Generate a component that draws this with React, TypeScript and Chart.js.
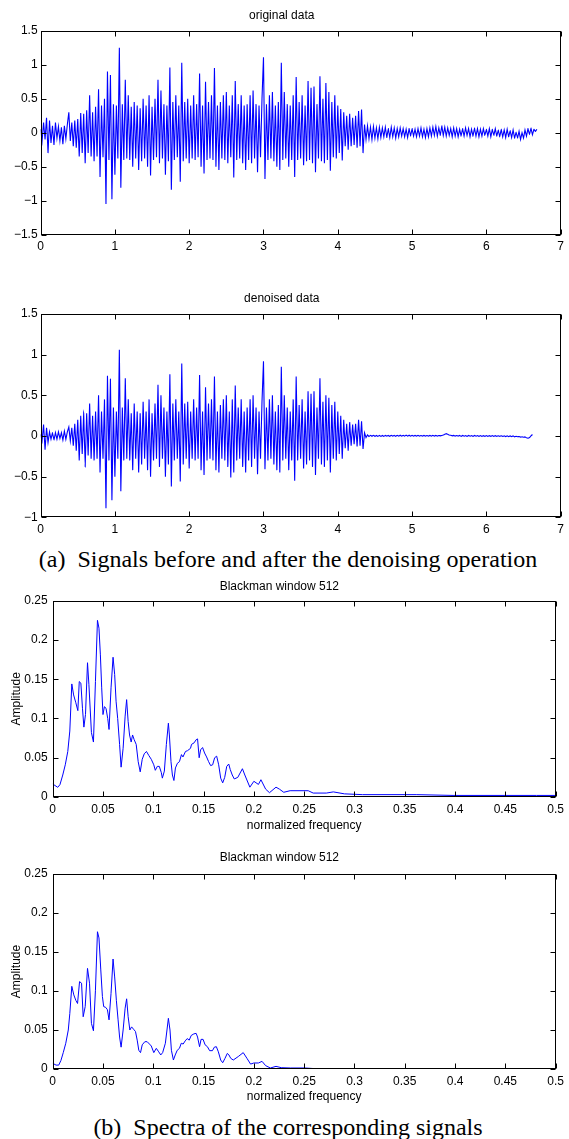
import React, { useEffect, useRef } from "react";
import { Chart, registerables } from "chart.js";

Chart.register(...registerables);

// ---------- data ----------
const sampleStep = 0.02; // seconds between samples of the time signals

const originalSignal = [
  0.05, -0.12, 0.15, -0.1, 0.22, -0.3, 0.18, -0.15, 0.1, -0.18,
  0.15, -0.08, 0.09, -0.12, 0.08, -0.17, 0.1, -0.09, 0.12, 0.3,
  -0.12, 0.15, -0.2, 0.18, -0.22, 0.2, -0.35, 0.29, -0.3, 0.28,
  -0.45, 0.33, -0.3, 0.55, -0.35, 0.3, -0.42, 0.38, -0.35, 0.64,
  -0.65, 0.4, -0.36, 0.5, -1.05, 0.9, -0.4, 0.85, -0.98, 0.42,
  -0.62, 0.4, -0.38, 1.25, -0.81, 0.42, -0.4, 0.78, -0.38, 0.55,
  -0.4, 0.38, -0.5, 0.45, -0.38, 0.4, -0.55, 0.36, -0.42, 0.5,
  -0.38, 0.4, -0.5, 0.55, -0.63, 0.38, -0.4, 0.5, -0.36, 0.78,
  -0.45, 0.62, -0.38, 0.42, -0.62, 0.4, -0.42, 0.96, -0.84, 0.45,
  -0.4, 0.55, -0.36, 0.4, -0.72, 1.03, -0.42, 0.45, -0.38, 0.5,
  -0.45, 0.4, -0.38, 0.55, -0.4, 0.42, -0.36, 0.87, -0.5, 0.4,
  -0.6, 0.75, -0.4, 0.45, -0.38, 0.55, -0.4, 0.95, -0.5, 0.4,
  -0.55, 0.45, -0.38, 0.55, -0.4, 0.6, -0.45, 0.4, -0.36, 0.55,
  -0.66, 0.76, -0.4, 0.42, -0.38, 0.55, -0.45, 0.4, -0.55, 0.42,
  -0.4, 0.55, -0.45, 0.62, -0.38, 0.42, -0.58, 0.4, -0.36, 0.5,
  1.11, -0.68, 0.42, -0.4, 0.55, -0.38, 0.6, -0.42, 0.4, -0.5,
  0.45, -0.55, 1.03, -0.4, 0.6, -0.38, 0.42, -0.5, 0.4, -0.4,
  0.55, -0.65, 0.82, -0.4, 0.45, -0.38, 0.55, -0.48, 0.4, -0.42,
  0.76, -0.4, 0.66, -0.45, 0.68, -0.58, 0.42, -0.38, 0.83, -0.42,
  0.5, -0.45, 0.73, -0.4, 0.6, -0.56, 0.45, -0.36, 0.55, -0.38,
  0.4, -0.3, 0.35, -0.41, 0.3, -0.2, 0.25, -0.25, 0.28, -0.2,
  0.22, -0.18, 0.25, -0.22, 0.32, -0.2, 0.34, -0.3, 0.12, -0.1,
  0.1, -0.09, 0.08, -0.1, 0.09, -0.08, 0.07, -0.09, 0.08, -0.07,
  0.07, -0.06, 0.08, -0.07, 0.06, -0.07, 0.08, -0.06, 0.07, -0.08,
  0.06, -0.06, 0.07, -0.05, 0.06, -0.06, 0.05, -0.07, 0.06, -0.05,
  0.06, -0.05, 0.05, -0.06, 0.06, -0.05, 0.07, -0.06, 0.05, -0.07,
  0.06, -0.06, 0.07, -0.05, 0.08, -0.04, 0.09, -0.05, 0.07, -0.04,
  0.1, -0.04, 0.08, -0.05, 0.07, -0.04, 0.06, -0.06, 0.07, -0.05,
  0.06, -0.06, 0.05, -0.05, 0.06, -0.05, 0.07, -0.04, 0.06, -0.06,
  0.05, -0.05, 0.07, -0.05, 0.06, -0.06, 0.05, -0.05, 0.06, -0.04,
  0.05, -0.05, 0.06, -0.06, 0.05, -0.04, 0.06, -0.05, 0.04, -0.06,
  0.05, -0.06, 0.04, -0.07, 0.05, -0.06, 0.03, -0.07, 0.04, -0.08,
  0.01, -0.08, 0.02, -0.1, 0.0, -0.08, 0.04, -0.05, 0.06, -0.03,
  0.07, -0.03, 0.05, 0.02, 0.05,
];

const denoisedSignal = [
  0.02, -0.06, 0.14, -0.17, 0.1, -0.08, 0.05, -0.04, 0.04, -0.05,
  0.04, -0.04, 0.05, -0.03, 0.04, -0.05, 0.06, -0.04, 0.05, 0.11,
  -0.06, 0.1, -0.12, 0.15, -0.18, 0.2, -0.3, 0.25, -0.22, 0.28,
  -0.38, 0.28, -0.24, 0.4, -0.28, 0.25, -0.3, 0.3, -0.28, 0.5,
  -0.45, 0.3, -0.28, 0.45, -0.89, 0.74, -0.3, 0.7, -0.79, 0.35,
  -0.5, 0.3, -0.28, 1.06, -0.68, 0.35, -0.3, 0.71, -0.28, 0.45,
  -0.3, 0.28, -0.42, 0.4, -0.28, 0.3, -0.45, 0.28, -0.35, 0.42,
  -0.28, 0.3, -0.42, 0.45, -0.5, 0.28, -0.3, 0.4, -0.28, 0.63,
  -0.38, 0.5, -0.28, 0.35, -0.5, 0.3, -0.35, 0.76, -0.62, 0.4,
  -0.3, 0.45, -0.28, 0.3, -0.56, 0.89, -0.35, 0.4, -0.28, 0.42,
  -0.4, 0.3, -0.28, 0.45, -0.3, 0.35, -0.28, 0.75, -0.42, 0.3,
  -0.48, 0.6, -0.3, 0.4, -0.28, 0.45, -0.3, 0.73, -0.42, 0.3,
  -0.45, 0.38, -0.28, 0.45, -0.3, 0.5, -0.38, 0.3, -0.51, 0.45,
  -0.45, 0.62, -0.3, 0.35, -0.28, 0.45, -0.38, 0.3, -0.45, 0.35,
  -0.3, 0.45, -0.38, 0.5, -0.28, 0.35, -0.47, 0.3, -0.28, 0.42,
  0.92, -0.41, 0.35, -0.3, 0.45, -0.28, 0.5, -0.35, 0.3, -0.42,
  0.38, -0.45, 0.85, -0.3, 0.5, -0.28, 0.35, -0.42, 0.3, -0.3,
  0.45, -0.55, 0.73, -0.3, 0.38, -0.28, 0.45, -0.4, 0.3, -0.35,
  0.55, -0.3, 0.52, -0.38, 0.55, -0.48, 0.35, -0.28, 0.71, -0.35,
  0.42, -0.38, 0.5, -0.3, 0.47, -0.45, 0.38, -0.28, 0.42, -0.3,
  0.3, -0.22, 0.25, -0.28, 0.2, -0.15, 0.15, -0.18, 0.17, -0.12,
  0.14, -0.1, 0.15, -0.13, 0.2, -0.12, 0.18, -0.16, 0.04, -0.02,
  0.012, -0.006, 0.008, -0.004, 0.008, -0.004, 0.006, -0.005, 0.007, -0.004,
  0.006, -0.004, 0.007, -0.003, 0.006, -0.004, 0.008, -0.003, 0.007, -0.004,
  0.008, -0.002, 0.009, -0.003, 0.008, -0.002, 0.01, -0.001, 0.009, -0.002,
  0.008, -0.002, 0.007, -0.003, 0.008, -0.002, 0.006, -0.003, 0.007, -0.002,
  0.006, -0.003, 0.007, -0.002, 0.008, -0.001, 0.007, -0.002, 0.006, 0.002,
  0.006, 0.012, 0.02, 0.028, 0.02, 0.012, 0.008, 0.002, 0.007, -0.003,
  0.006, -0.003, 0.007, -0.004, 0.006, -0.003, 0.005, -0.004, 0.006, -0.003,
  0.005, -0.004, 0.006, -0.003, 0.005, -0.004, 0.005, -0.005, 0.004, -0.004,
  0.005, -0.005, 0.004, -0.004, 0.005, -0.005, 0.004, -0.006, 0.003, -0.005,
  0.003, -0.006, 0.002, -0.007, 0.002, -0.008, 0.001, -0.009, 0.0, -0.01,
  -0.004, -0.01, -0.006, -0.014, -0.01, -0.016, -0.012, -0.022, -0.028, -0.02,
  0.0, 0.018,
];

const originalSpectrumFreq = [
  0, 0.005, 0.0072, 0.01, 0.0125, 0.015, 0.017, 0.019, 0.0208, 0.023,
  0.025, 0.0264, 0.028, 0.0296, 0.031, 0.0326, 0.0346, 0.036, 0.0385, 0.0405,
  0.0425, 0.0445, 0.046, 0.0474, 0.0487, 0.05, 0.0514, 0.053, 0.0547, 0.056,
  0.058, 0.06, 0.0616, 0.063, 0.0646, 0.0665, 0.068, 0.07, 0.072, 0.0735,
  0.075, 0.0764, 0.078, 0.0794, 0.081, 0.083, 0.085, 0.087, 0.089, 0.091,
  0.0932, 0.0955, 0.098, 0.1005, 0.102, 0.104, 0.106, 0.108, 0.109, 0.111,
  0.113, 0.115, 0.116, 0.1176, 0.119, 0.1205, 0.122, 0.124, 0.126, 0.128,
  0.1295, 0.132, 0.134, 0.137, 0.138, 0.1406, 0.1426, 0.144, 0.1456, 0.147,
  0.149, 0.151, 0.153, 0.155, 0.157, 0.159, 0.161, 0.163, 0.165, 0.167,
  0.169, 0.171, 0.173, 0.175, 0.1765, 0.1785, 0.1805, 0.184, 0.1886, 0.191,
  0.196, 0.2, 0.2045, 0.207, 0.2117, 0.2155, 0.222, 0.2254, 0.2297, 0.236,
  0.254, 0.259, 0.272, 0.279, 0.29, 0.308, 0.362, 0.398, 0.481, 0.5,
];
const originalSpectrumAmp = [
  0.0166, 0.0123, 0.0157, 0.028, 0.041, 0.058, 0.084, 0.144, 0.13, 0.12,
  0.11, 0.147, 0.145, 0.113, 0.089, 0.105, 0.171, 0.143, 0.082, 0.07,
  0.147, 0.225, 0.215, 0.181, 0.139, 0.105, 0.115, 0.113, 0.1, 0.086,
  0.139, 0.178, 0.156, 0.122, 0.1, 0.067, 0.038, 0.062, 0.103, 0.124,
  0.096, 0.079, 0.07, 0.079, 0.073, 0.067, 0.045, 0.032, 0.048, 0.055,
  0.058, 0.053, 0.048, 0.041, 0.034, 0.039, 0.039, 0.031, 0.024, 0.033,
  0.067, 0.094, 0.079, 0.045, 0.028, 0.021, 0.037, 0.043, 0.045, 0.054,
  0.051, 0.058, 0.059, 0.062, 0.067, 0.069, 0.073, 0.074, 0.05, 0.06,
  0.063, 0.056, 0.051, 0.045, 0.04, 0.041, 0.05, 0.052, 0.041, 0.024,
  0.018, 0.025, 0.039, 0.042, 0.035, 0.028, 0.023, 0.025, 0.036, 0.028,
  0.0125, 0.02, 0.016, 0.022, 0.01, 0.0055, 0.0125, 0.01, 0.006, 0.008,
  0.008, 0.005, 0.005, 0.0065, 0.004, 0.003, 0.003, 0.002, 0.002, 0.002,
];

const denoisedSpectrumFreq = [
  0, 0.0033, 0.006, 0.0082, 0.0105, 0.013, 0.0155, 0.017, 0.019, 0.021,
  0.023, 0.0247, 0.0267, 0.0287, 0.0303, 0.0323, 0.0346, 0.0366, 0.0385, 0.0405,
  0.0425, 0.0445, 0.046, 0.0478, 0.0494, 0.0507, 0.0527, 0.0544, 0.056, 0.058,
  0.06, 0.0616, 0.0633, 0.065, 0.0665, 0.068, 0.07, 0.072, 0.0735, 0.075,
  0.0767, 0.0784, 0.0804, 0.0823, 0.084, 0.0856, 0.0873, 0.089, 0.0916, 0.0939,
  0.0962, 0.098, 0.1005, 0.103, 0.1054, 0.1074, 0.1093, 0.112, 0.1136, 0.115,
  0.1166, 0.118, 0.12, 0.1218, 0.1238, 0.126, 0.1278, 0.1297, 0.1317, 0.1337,
  0.1357, 0.1377, 0.1403, 0.1426, 0.144, 0.146, 0.1475, 0.1495, 0.1515, 0.1538,
  0.156, 0.1588, 0.1607, 0.1627, 0.1647, 0.167, 0.169, 0.1713, 0.1736, 0.1752,
  0.177, 0.1795, 0.1845, 0.1894, 0.1931, 0.1967, 0.2, 0.2045, 0.2081, 0.2117,
  0.2164, 0.222, 0.2272, 0.2362, 0.2506, 0.2616, 0.3, 0.4, 0.5,
];
const denoisedSpectrumAmp = [
  0.0073, 0.005, 0.005, 0.011, 0.021, 0.033, 0.05, 0.071, 0.106, 0.095,
  0.088, 0.084, 0.112, 0.11, 0.067, 0.08, 0.129, 0.11, 0.0585, 0.049,
  0.101, 0.176, 0.168, 0.127, 0.093, 0.08, 0.079, 0.076, 0.063, 0.097,
  0.141, 0.118, 0.088, 0.063, 0.041, 0.028, 0.05, 0.078, 0.09, 0.067,
  0.05, 0.054, 0.051, 0.048, 0.037, 0.024, 0.021, 0.031, 0.035, 0.035,
  0.032, 0.0295, 0.021, 0.0265, 0.022, 0.018, 0.021, 0.033, 0.05, 0.065,
  0.05, 0.024, 0.0115, 0.018, 0.024, 0.0265, 0.033, 0.032, 0.036, 0.039,
  0.037, 0.043, 0.045, 0.0457, 0.041, 0.0286, 0.038, 0.038, 0.031, 0.0286,
  0.0235, 0.0235, 0.028, 0.0286, 0.022, 0.0115, 0.008, 0.0137, 0.02, 0.018,
  0.0137, 0.0115, 0.016, 0.021, 0.0137, 0.0063, 0.0077, 0.0077, 0.0098, 0.0043,
  0.0013, 0.0034, 0.0017, 0.0013, 0.0013, 0.0004, 0.0002, 0.0002, 0.0002,
];

const timeTicks = [0, 1, 2, 3, 4, 5, 6, 7];
const timeTickLabels = ["0", "1", "2", "3", "4", "5", "6", "7"];
const originalYTicks = [-1.5, -1, -0.5, 0, 0.5, 1, 1.5];
const originalYTickLabels = ["\u22121.5", "\u22121", "\u22120.5", "0", "0.5", "1", "1.5"];
const denoisedYTicks = [-1, -0.5, 0, 0.5, 1, 1.5];
const denoisedYTickLabels = ["\u22121", "\u22120.5", "0", "0.5", "1", "1.5"];
const freqTicks = [0, 0.05, 0.1, 0.15, 0.2, 0.25, 0.3, 0.35, 0.4, 0.45, 0.5];
const freqTickLabels = ["0", "0.05", "0.1", "0.15", "0.2", "0.25", "0.3", "0.35", "0.4", "0.45", "0.5"];
const ampTicks = [0, 0.05, 0.1, 0.15, 0.2, 0.25];
const ampTickLabels = ["0", "0.05", "0.1", "0.15", "0.2", "0.25"];

// ---------- styling ----------
const FONT = '"Liberation Sans", Arial, Helvetica, sans-serif';
const LINE_BLUE = "#0000ff";

const framePlugin = {
  id: "matlabFrame",
  afterDatasetsDraw(chart: any) {
    const { ctx, chartArea: a, scales } = chart;
    const L = Math.round(a.left) + 0.5;
    const R = Math.round(a.right) - 0.5;
    const T = Math.round(a.top) + 0.5;
    const B = Math.round(a.bottom) - 0.5;
    const len = 5;
    ctx.save();
    ctx.strokeStyle = "#000";
    ctx.lineWidth = 1;
    ctx.strokeRect(L, T, R - L, B - T);
    ctx.beginPath();
    scales.x.ticks.forEach((t: any) => {
      const px = Math.round(scales.x.getPixelForValue(t.value)) + 0.5;
      ctx.moveTo(px, B);
      ctx.lineTo(px, B - len);
      ctx.moveTo(px, T);
      ctx.lineTo(px, T + len);
    });
    scales.y.ticks.forEach((t: any) => {
      const py = Math.round(scales.y.getPixelForValue(t.value)) + 0.5;
      ctx.moveTo(L, py);
      ctx.lineTo(L + len, py);
      ctx.moveTo(R, py);
      ctx.lineTo(R - len, py);
    });
    ctx.stroke();
    ctx.restore();
  },
};

type PanelSpec = {
  points: { x: number; y: number }[];
  lineWidth: number;
  tension: number;
  xMin: number;
  xMax: number;
  yMin: number;
  yMax: number;
  xTicks: number[];
  xLabels: string[];
  yTicks: number[];
  yLabels: string[];
  title: string;
  titlePadTop: number;
  titlePadBottom: number;
  yWidth: number;
  xHeight: number;
  padRight: number;
  padBottom: number;
  yTickPad: number;
  xTitle?: string;
  yTitle?: string;
};

function buildConfig(s: PanelSpec): any {
  return {
    type: "line",
    data: {
      datasets: [
        {
          data: s.points,
          borderColor: LINE_BLUE,
          borderWidth: s.lineWidth,
          pointRadius: 0,
          tension: s.tension,
          fill: false,
        },
      ],
    },
    options: {
      animation: false,
      responsive: false,
      maintainAspectRatio: false,
      devicePixelRatio: 1,
      events: [],
      layout: { padding: { top: 0, left: 0, right: s.padRight, bottom: s.padBottom } },
      plugins: {
        legend: { display: false },
        tooltip: { enabled: false },
        decimation: { enabled: false },
        title: {
          display: true,
          text: s.title,
          color: "#000",
          font: { family: FONT, size: 12, weight: "normal", lineHeight: 1.2 },
          padding: { top: s.titlePadTop, bottom: s.titlePadBottom },
        },
      },
      scales: {
        x: {
          type: "linear",
          position: "bottom",
          min: s.xMin,
          max: s.xMax,
          grid: { display: false, drawTicks: false },
          border: { display: false },
          afterBuildTicks: (scale: any) => {
            scale.ticks = s.xTicks.map((v) => ({ value: v }));
          },
          afterFit: (scale: any) => {
            scale.height = s.xHeight;
          },
          ticks: {
            autoSkip: false,
            maxRotation: 0,
            padding: 5,
            color: "#000",
            font: { family: FONT, size: 12 },
            callback: (_v: any, i: number) => s.xLabels[i],
          },
          title: s.xTitle
            ? {
                display: true,
                text: s.xTitle,
                color: "#000",
                font: { family: FONT, size: 12, lineHeight: 1.2 },
                padding: { top: 0, bottom: 0 },
              }
            : { display: false },
        },
        y: {
          type: "linear",
          position: "left",
          min: s.yMin,
          max: s.yMax,
          grid: { display: false, drawTicks: false },
          border: { display: false },
          afterBuildTicks: (scale: any) => {
            scale.ticks = s.yTicks.map((v) => ({ value: v }));
          },
          afterFit: (scale: any) => {
            scale.width = s.yWidth;
          },
          ticks: {
            autoSkip: false,
            padding: s.yTickPad,
            color: "#000",
            font: { family: FONT, size: 12 },
            callback: (_v: any, i: number) => s.yLabels[i],
          },
          title: s.yTitle
            ? {
                display: true,
                text: s.yTitle,
                color: "#000",
                font: { family: FONT, size: 12, lineHeight: 1.2 },
                padding: { top: 9.2, bottom: 0 },
              }
            : { display: false },
        },
      },
    },
    plugins: [framePlugin],
  };
}

function Panel({ top, height, spec }: { top: number; height: number; spec: PanelSpec }) {
  const ref = useRef<HTMLCanvasElement | null>(null);
  useEffect(() => {
    if (!ref.current) return;
    const chart = new Chart(ref.current, buildConfig(spec));
    return () => chart.destroy();
  }, []);
  return (
    <canvas
      ref={ref}
      width={569}
      height={height}
      style={{ position: "absolute", left: 0, top, width: 569, height }}
    />
  );
}

const signalPoints = (values: number[]) => values.map((v, i) => ({ x: i * sampleStep, y: v }));
const spectrumPoints = (freq: number[], amp: number[]) =>
  freq.slice(0, Math.min(freq.length, amp.length)).map((f, i) => ({ x: f, y: amp[i] }));

const captionStyle: React.CSSProperties = {
  position: "absolute",
  left: 8,
  width: 560,
  textAlign: "center",
  fontFamily: '"Liberation Serif", "Times New Roman", serif',
  fontSize: 24,
  lineHeight: "24px",
  color: "#000",
  whiteSpace: "nowrap",
};

export default function App() {
  const p1: PanelSpec = {
    points: signalPoints(originalSignal),
    lineWidth: 1.1,
    tension: 0.001,
    xMin: 0, xMax: 7, yMin: -1.5, yMax: 1.5,
    xTicks: timeTicks, xLabels: timeTickLabels,
    yTicks: originalYTicks, yLabels: originalYTickLabels,
    title: "original data",
    titlePadTop: 8.1, titlePadBottom: 8.2,
    yWidth: 40.6, xHeight: 20, padRight: 5.5, padBottom: 0.3, yTickPad: 3,
  };
  const p2: PanelSpec = {
    points: signalPoints(denoisedSignal),
    lineWidth: 1.1,
    tension: 0.001,
    xMin: 0, xMax: 7, yMin: -1, yMax: 1.5,
    xTicks: timeTicks, xLabels: timeTickLabels,
    yTicks: denoisedYTicks, yLabels: denoisedYTickLabels,
    title: "denoised data",
    titlePadTop: 11.8, titlePadBottom: 7.8,
    yWidth: 40.6, xHeight: 20, padRight: 5.5, padBottom: 0.7, yTickPad: 3,
  };
  const p3: PanelSpec = {
    points: spectrumPoints(originalSpectrumFreq, originalSpectrumAmp),
    lineWidth: 1,
    tension: 0,
    xMin: 0, xMax: 0.5, yMin: 0, yMax: 0.25,
    xTicks: freqTicks, xLabels: freqTickLabels,
    yTicks: ampTicks, yLabels: ampTickLabels,
    title: "Blackman window 512",
    titlePadTop: 5.5, titlePadBottom: 6.8,
    yWidth: 52.7, xHeight: 35.7, padRight: 10.3, padBottom: 0.3, yTickPad: 5,
    xTitle: "normalized frequency", yTitle: "Amplitude",
  };
  const p4: PanelSpec = {
    points: spectrumPoints(denoisedSpectrumFreq, denoisedSpectrumAmp),
    lineWidth: 1,
    tension: 0,
    xMin: 0, xMax: 0.5, yMin: 0, yMax: 0.25,
    xTicks: freqTicks, xLabels: freqTickLabels,
    yTicks: ampTicks, yLabels: ampTickLabels,
    title: "Blackman window 512",
    titlePadTop: 8.8, titlePadBottom: 8.8,
    yWidth: 52.7, xHeight: 35.2, padRight: 10.3, padBottom: 0.8, yTickPad: 5,
    xTitle: "normalized frequency", yTitle: "Amplitude",
  };

  return (
    <div
      style={{
        position: "absolute",
        left: 0,
        top: 0,
        width: 569,
        height: 1139,
        overflow: "hidden",
        background: "#fff",
      }}
    >
      <Panel top={0} height={255} spec={p1} />
      <Panel top={280} height={258} spec={p2} />
      <div style={{ ...captionStyle, top: 546.9 }}>(a)&ensp;Signals before and after the denoising operation</div>
      <Panel top={574} height={259} spec={p3} />
      <Panel top={842} height={263} spec={p4} />
      <div style={{ ...captionStyle, top: 1114.9 }}>(b)&ensp;Spectra of the corresponding signals</div>
    </div>
  );
}
